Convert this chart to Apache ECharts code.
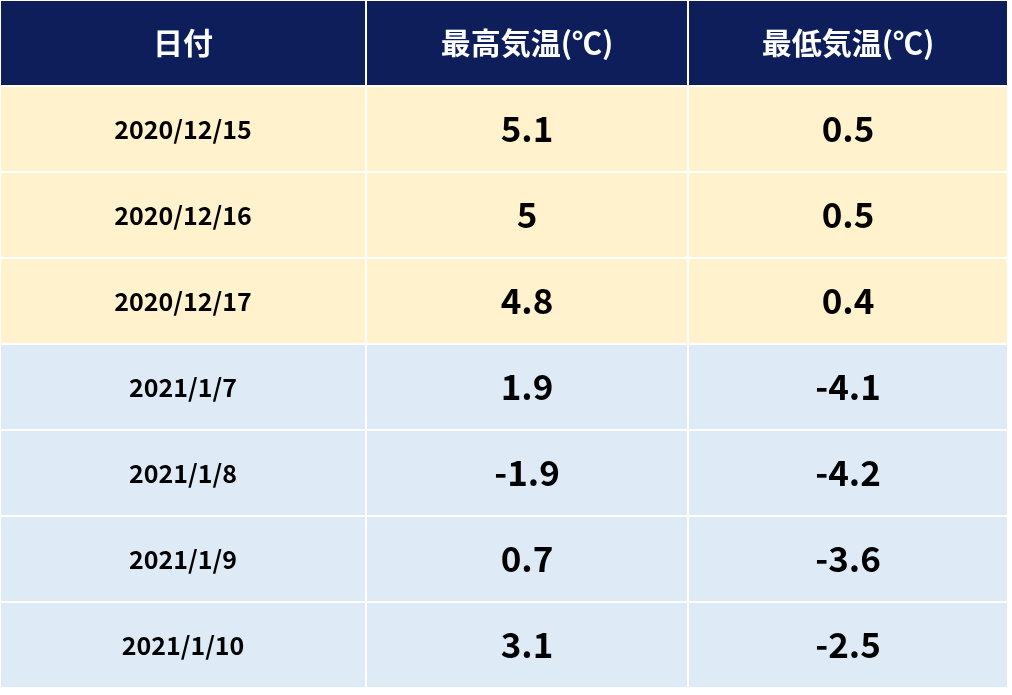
<!DOCTYPE html><html><head><meta charset="utf-8"><script src="https://cdn.jsdelivr.net/npm/echarts@6/dist/echarts.min.js"></script>
<style>html,body{margin:0;background:#fff}#c{width:1012px;height:695px}</style></head><body><div id="c"></div><script>
const headers=['日付','最高気温(℃)','最低気温(℃)'];
const dates=['2020/12/15','2020/12/16','2020/12/17','2021/1/7','2021/1/8','2021/1/9','2021/1/10'];
const highs=['5.1','5','4.8','1.9','-1.9','0.7','3.1'];
const lows=['0.5','0.5','0.4','-4.1','-4.2','-3.6','-2.5'];
const rowGroup=[0,0,0,1,1,1,1];
const rows=['h'].concat(dates);
const cells=[];
headers.forEach((h,c)=>cells.push([c,0,h,'head']));
dates.forEach((d,r)=>{const g=rowGroup[r]?'blue':'yellow';
 cells.push([0,r+1,d,g,'date']);cells.push([1,r+1,highs[r],g,'val']);cells.push([2,r+1,lows[r],g,'val']);});
const colW=[366,322,320],total=1008;
const fills={head:'#0e1e5b',yellow:'#fff2cc',blue:'#deebf7'};
const chart=echarts.init(document.getElementById('c'));
chart.setOption({animation:false,
grid:{left:0,top:0,width:total,height:688},
xAxis:{type:'category',data:headers,show:false},
yAxis:{type:'category',data:rows,inverse:true,show:false},
series:[{type:'custom',data:cells,renderItem:(p,api)=>{
 const c=api.value(0),r=api.value(1);const pt=api.coord([c,r]);const sz=api.size([1,1]);
 let x0=0;for(let i=0;i<c;i++)x0+=colW[i];
 const y=pt[1]-sz[1]/2;const w=colW[c],h=sz[1];
 const kind=cells[p.dataIndex][3],sub=cells[p.dataIndex][4];
 const fs=kind==='head'?30:(sub==='date'?25:35);
 return {type:'group',children:[
  {type:'rect',shape:{x:x0+1,y:y+1,width:w-2,height:h-2},style:{fill:fills[kind]}},
  {type:'text',style:{x:x0+w/2,y:y+h/2,text:cells[p.dataIndex][2],align:'center',verticalAlign:'middle',
   fill:kind==='head'?'#fff':'#000',font:`bold ${fs}px "Noto Sans CJK JP", "DejaVu Sans", sans-serif`}}]};
}}]});
</script></body></html>
